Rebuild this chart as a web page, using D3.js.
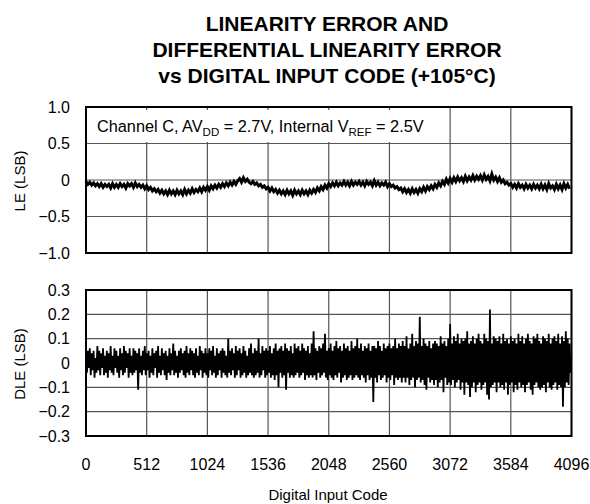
<!DOCTYPE html>
<html>
<head>
<meta charset="utf-8">
<script src="https://cdn.jsdelivr.net/npm/d3@7"></script>
<style>
  body { margin: 0; background: #fff; }
  svg { font-family: "Liberation Sans", Arial, sans-serif; }
</style>
</head>
<body>
<script>
var width = 590,
    height = 504;

// title lines
var titleLines = ["LINEARITY ERROR AND", "DIFFERENTIAL LINEARITY ERROR", "vs DIGITAL INPUT CODE (+105\u00B0C)"];

// x axis ticks
var codeTicks = [0, 512, 1024, 1536, 2048, 2560, 3072, 3584, 4096];
var leTicks = [1.0, 0.5, 0, -0.5, -1.0];
var leTickLabels = ["1.0", "0.5", "0", "\u22120.5", "\u22121.0"];
var dleTicks = [0.3, 0.2, 0.1, 0, -0.1, -0.2, -0.3];
var dleTickLabels = ["0.3", "0.2", "0.1", "0", "\u22120.1", "\u22120.2", "\u22120.3"];

// LE, one value every 16 codes
var leStep = 16;
var leValues = [
  -0.02,-0.06,-0.03,-0.07,-0.04,-0.08,-0.05,-0.09,-0.05,-0.10,-0.06,-0.09,-0.06,-0.11,-0.05,-0.10,
  -0.06,-0.10,-0.05,-0.09,-0.06,-0.11,-0.05,-0.08,-0.05,-0.10,-0.04,-0.09,-0.06,-0.10,-0.07,-0.12,
  -0.08,-0.13,-0.10,-0.15,-0.12,-0.16,-0.13,-0.18,-0.14,-0.19,-0.15,-0.20,-0.14,-0.19,-0.15,-0.20,
  -0.14,-0.19,-0.15,-0.20,-0.13,-0.19,-0.14,-0.18,-0.12,-0.17,-0.13,-0.16,-0.11,-0.16,-0.10,-0.14,
  -0.09,-0.14,-0.08,-0.12,-0.07,-0.11,-0.06,-0.10,-0.05,-0.09,-0.04,-0.08,-0.03,-0.07,-0.02,-0.06,
  -0.01,0.02,-0.03,0.03,-0.02,0.01,-0.03,-0.05,-0.02,-0.06,-0.04,-0.08,-0.06,-0.10,-0.08,-0.12,
  -0.10,-0.15,-0.11,-0.16,-0.13,-0.18,-0.14,-0.19,-0.15,-0.20,-0.14,-0.19,-0.15,-0.21,-0.14,-0.19,
  -0.15,-0.20,-0.14,-0.19,-0.15,-0.20,-0.14,-0.18,-0.13,-0.17,-0.11,-0.15,-0.09,-0.13,-0.07,-0.11,
  -0.05,-0.09,-0.04,-0.08,-0.03,-0.08,-0.04,-0.07,-0.02,-0.07,-0.03,-0.08,-0.02,-0.07,-0.03,-0.06,
  -0.02,-0.07,-0.03,-0.08,-0.02,-0.06,-0.03,-0.08,-0.01,-0.07,-0.03,-0.08,-0.04,-0.07,-0.03,-0.09,
  -0.05,-0.09,-0.07,-0.11,-0.09,-0.13,-0.11,-0.16,-0.12,-0.17,-0.13,-0.18,-0.12,-0.17,-0.13,-0.18,
  -0.12,-0.16,-0.10,-0.15,-0.09,-0.13,-0.08,-0.12,-0.06,-0.10,-0.04,-0.08,-0.02,-0.06,0.01,-0.04,
  0.02,-0.03,0.03,-0.02,0.04,-0.01,0.03,-0.02,0.05,-0.01,0.04,0.00,0.06,0.00,0.05,0.01,
  0.06,0.00,0.07,0.01,0.05,-0.01,0.08,0.00,0.04,-0.02,0.03,-0.03,0.00,-0.05,-0.03,-0.07,
  -0.05,-0.10,-0.06,-0.11,-0.05,-0.10,-0.07,-0.12,-0.06,-0.11,-0.07,-0.12,-0.06,-0.11,-0.07,-0.12,
  -0.06,-0.12,-0.07,-0.13,-0.05,-0.11,-0.08,-0.13,-0.06,-0.12,-0.07,-0.13,-0.05,-0.11,-0.06,-0.12
];

// DLE, one value every 8 codes
var dleStep = 8;
var dleValues = [
  0.03,-0.04,0.05,-0.02,0.06,-0.05,0.04,-0.03,0.05,-0.06,0.02,-0.04,0.07,-0.03,0.05,-0.05,
  0.04,-0.02,0.06,-0.05,0.03,-0.04,0.05,-0.06,0.04,-0.03,0.07,-0.04,0.03,-0.05,0.06,-0.02,
  0.05,-0.04,0.03,-0.06,0.06,-0.03,0.04,-0.05,0.07,-0.04,0.05,-0.02,0.04,-0.06,0.06,-0.04,
  0.03,-0.05,0.06,-0.04,0.05,-0.03,0.04,-0.11,0.06,-0.04,0.03,-0.05,0.05,-0.03,0.07,-0.05,
  0.04,-0.03,0.05,-0.06,0.03,-0.04,0.06,-0.05,0.04,-0.02,0.05,-0.06,0.07,-0.04,0.03,-0.05,
  0.06,-0.03,0.04,-0.05,0.05,-0.07,0.03,-0.04,0.06,-0.05,0.04,-0.03,0.08,-0.05,0.05,-0.04,
  0.03,-0.06,0.05,-0.04,0.06,-0.03,0.04,-0.05,0.05,-0.06,0.07,-0.04,0.04,-0.05,0.06,-0.03,
  0.05,-0.05,0.04,-0.06,0.06,-0.04,0.03,-0.05,0.07,-0.03,0.05,-0.06,0.04,-0.04,0.06,-0.05,
  0.04,-0.06,0.06,-0.03,0.05,-0.05,0.07,-0.04,0.03,-0.06,0.06,-0.05,0.04,-0.03,0.05,-0.06,
  0.06,-0.04,0.05,-0.05,0.03,-0.06,0.10,-0.04,0.05,-0.05,0.06,-0.03,0.04,-0.06,0.07,-0.05,
  0.05,-0.03,0.06,-0.06,0.04,-0.05,0.07,-0.04,0.05,-0.06,0.03,-0.05,0.06,-0.04,0.08,-0.05,
  0.04,-0.06,0.06,-0.05,0.05,-0.04,0.10,-0.06,0.04,-0.05,0.07,-0.03,0.05,-0.06,0.06,-0.05,
  0.05,-0.04,0.07,-0.06,0.04,-0.05,0.06,-0.07,0.08,-0.05,0.05,-0.10,0.06,-0.04,0.07,-0.06,
  0.05,-0.05,0.08,-0.11,0.06,-0.04,0.05,-0.06,0.07,-0.05,0.04,-0.06,0.08,-0.05,0.06,-0.04,
  0.07,-0.06,0.05,-0.05,0.08,-0.04,0.06,-0.07,0.05,-0.05,0.07,-0.06,0.04,-0.05,0.08,-0.06,
  0.13,-0.05,0.06,-0.07,0.05,-0.04,0.07,-0.06,0.06,-0.05,0.08,-0.04,0.12,-0.06,0.05,-0.07,
  0.06,-0.05,0.08,-0.06,0.05,-0.07,0.07,-0.05,0.09,-0.06,0.06,-0.04,0.07,-0.08,0.05,-0.06,
  0.08,-0.05,0.06,-0.07,0.07,-0.06,0.05,-0.05,0.09,-0.07,0.06,-0.06,0.07,-0.05,0.10,-0.06,
  0.06,-0.07,0.08,-0.05,0.05,-0.06,0.07,-0.08,0.06,-0.05,0.08,-0.07,0.05,-0.06,0.07,-0.16,
  0.07,-0.06,0.06,-0.08,0.09,-0.05,0.07,-0.07,0.05,-0.06,0.08,-0.05,0.06,-0.08,0.07,-0.06,
  0.08,-0.07,0.06,-0.05,0.07,-0.09,0.10,-0.06,0.06,-0.07,0.08,-0.06,0.07,-0.08,0.09,-0.06,
  0.07,-0.08,0.11,-0.06,0.06,-0.09,0.08,-0.07,0.12,-0.06,0.07,-0.10,0.09,-0.07,0.08,-0.06,
  0.19,-0.08,0.07,-0.07,0.10,-0.09,0.08,-0.11,0.07,-0.06,0.09,-0.08,0.06,-0.07,0.08,-0.09,
  0.09,-0.07,0.08,-0.10,0.07,-0.08,0.11,-0.07,0.08,-0.12,0.09,-0.06,0.07,-0.09,0.10,-0.08,
  0.16,-0.09,0.08,-0.07,0.11,-0.10,0.09,-0.08,0.12,-0.07,0.08,-0.11,0.10,-0.08,0.09,-0.13,
  0.10,-0.08,0.13,-0.09,0.08,-0.14,0.09,-0.10,0.11,-0.08,0.08,-0.12,0.10,-0.09,0.12,-0.08,
  0.09,-0.11,0.08,-0.09,0.12,-0.08,0.10,-0.13,0.09,-0.15,0.22,-0.10,0.08,-0.09,0.11,-0.08,
  0.10,-0.12,0.09,-0.08,0.11,-0.10,0.08,-0.09,0.12,-0.11,0.09,-0.08,0.10,-0.13,0.08,-0.09,
  0.11,-0.08,0.09,-0.12,0.10,-0.09,0.08,-0.11,0.12,-0.08,0.09,-0.10,0.11,-0.09,0.08,-0.12,
  0.10,-0.09,0.12,-0.08,0.09,-0.11,0.08,-0.13,0.11,-0.09,0.10,-0.08,0.12,-0.10,0.09,-0.11,
  0.08,-0.10,0.11,-0.09,0.10,-0.12,0.09,-0.08,0.12,-0.10,0.08,-0.11,0.10,-0.09,0.11,-0.08,
  0.09,-0.11,0.12,-0.09,0.08,-0.10,0.11,-0.18,0.09,-0.10,0.13,-0.08,0.10,-0.09,0.08,-0.04
];

var svg = d3.select("body").append("svg")
    .attr("width", width)
    .attr("height", height);

var x = d3.scaleLinear()
    .domain([0, 4096])
    .range([86, 571.5]);

var yLE = d3.scaleLinear()
    .domain([-1, 1])
    .range([253, 107]);

var yDLE = d3.scaleLinear()
    .domain([-0.3, 0.3])
    .range([436, 290]);

// title
svg.append("g").selectAll("text")
    .data(titleLines)
    .enter()
    .append("text")
    .attr("x", 327)
    .attr("y", function(d, i) { return 31 + i * 26; })
    .attr("text-anchor", "middle")
    .style("font-size", "21px")
    .style("font-weight", "bold")
    .text(function(d) { return d; });

function panel(y, ticks, labels, title, titleY) {
  var g = svg.append("g");
  var top = y.range()[1], bottom = y.range()[0];

  // grid
  g.selectAll(".hgrid")
    .data(ticks)
    .enter()
    .append("line")
    .attr("x1", x(0)).attr("x2", x(4096))
    .attr("y1", function(d) { return y(d); })
    .attr("y2", function(d) { return y(d); })
    .attr("stroke", "#555")
    .attr("stroke-width", 1.2);

  g.selectAll(".vgrid")
    .data(codeTicks)
    .enter()
    .append("line")
    .attr("x1", function(d) { return x(d); })
    .attr("x2", function(d) { return x(d); })
    .attr("y1", top).attr("y2", bottom)
    .attr("stroke", "#555")
    .attr("stroke-width", 1.2);

  // y tick labels
  g.selectAll(".ylab")
    .data(ticks)
    .enter()
    .append("text")
    .attr("x", 70)
    .attr("y", function(d) { return y(d) + 5.5; })
    .attr("text-anchor", "end")
    .style("font-size", "16px")
    .text(function(d, i) { return labels[i]; });

  g.append("text")
    .attr("transform", "translate(25," + titleY + ") rotate(-90)")
    .attr("text-anchor", "middle")
    .style("font-size", "15px")
    .text(title);

  return g;
}

var gLE = panel(yLE, leTicks, leTickLabels, "LE (LSB)", 181);

// condition box
gLE.append("rect")
    .attr("x", 88).attr("y", 110)
    .attr("width", 348).attr("height", 32)
    .attr("fill", "#fff");

var cond = gLE.append("text")
    .attr("x", 97)
    .attr("y", 132)
    .style("font-size", "16.3px");
cond.append("tspan").text("Channel C, AV");
cond.append("tspan").attr("dy", 4).style("font-size", "11.5px").text("DD");
cond.append("tspan").attr("dy", -4).text(" = 2.7V, Internal V");
cond.append("tspan").attr("dy", 4).style("font-size", "11.5px").text("REF");
cond.append("tspan").attr("dy", -4).text(" = 2.5V");

var gDLE = panel(yDLE, dleTicks, dleTickLabels, "DLE (LSB)", 364);

// traces
gLE.append("path")
    .datum(leValues)
    .attr("fill", "none")
    .attr("stroke", "#000")
    .attr("stroke-width", 3)
    .attr("d", d3.line()
      .x(function(d, i) { return x(i * leStep); })
      .y(function(d) { return yLE(d); }));

gDLE.append("path")
    .datum(dleValues)
    .attr("fill", "none")
    .attr("stroke", "#000")
    .attr("stroke-width", 1.8)
    .attr("d", d3.line()
      .x(function(d, i) { return x(i * dleStep); })
      .y(function(d) { return yDLE(d); }));

// frames
[yLE, yDLE].forEach(function(y) {
  svg.append("rect")
    .attr("x", x(0))
    .attr("y", y.range()[1])
    .attr("width", x(4096) - x(0))
    .attr("height", y.range()[0] - y.range()[1])
    .attr("fill", "none")
    .attr("stroke", "#000")
    .attr("stroke-width", 2);
});

// x tick labels
svg.append("g").selectAll("text")
    .data(codeTicks)
    .enter()
    .append("text")
    .attr("x", function(d) { return x(d); })
    .attr("y", 470)
    .attr("text-anchor", "middle")
    .style("font-size", "16px")
    .text(function(d) { return d; });

svg.append("text")
    .attr("x", 328)
    .attr("y", 500)
    .attr("text-anchor", "middle")
    .style("font-size", "15px")
    .text("Digital Input Code");
</script>
</body>
</html>
